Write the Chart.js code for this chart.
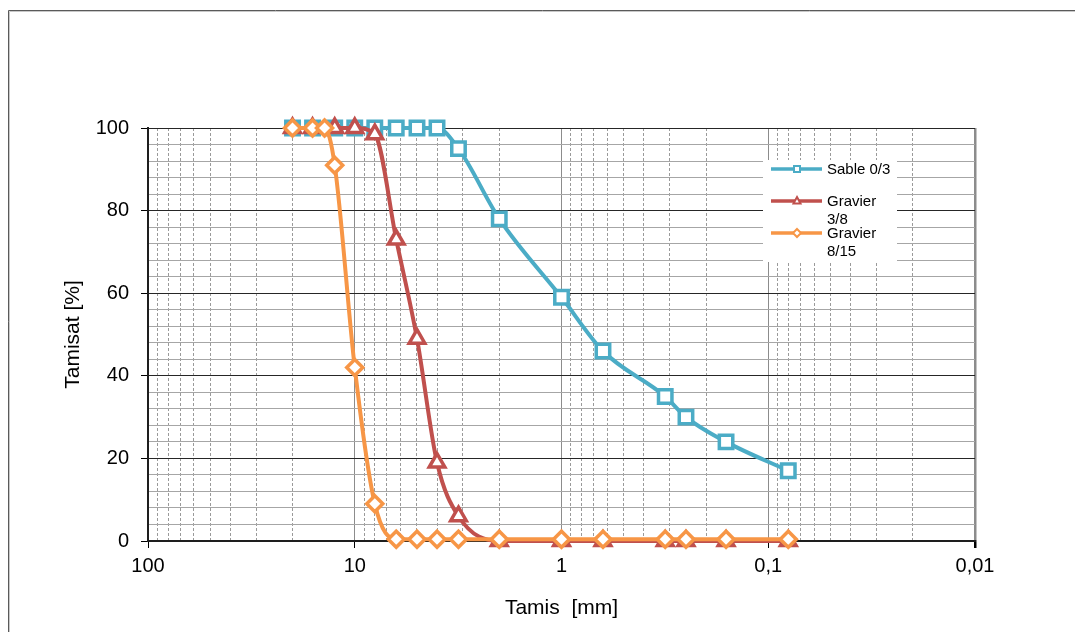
<!DOCTYPE html>
<html>
<head>
<meta charset="utf-8">
<title>Courbes granulométriques</title>
<script src="https://cdn.jsdelivr.net/npm/chart.js@4.4.0/dist/chart.umd.min.js"></script>
<style>
  html, body { margin: 0; padding: 0; background: #fff; }
  #wrap { width: 1075px; height: 632px; position: relative; }
</style>
</head>
<body>
<div id="wrap"><canvas id="granulo" width="1075" height="632"></canvas></div>
<script>
// ouvertures des tamis (mm)
const tamis = [20, 16, 12.5, 10, 8, 6.3, 5, 4, 3.15, 2, 1, 0.63, 0.315, 0.25, 0.16, 0.08];
const tamis815 = [20, 16, 14, 12.5, 10, 8, 6.3, 5, 4, 3.15, 2, 1, 0.63, 0.315, 0.25, 0.16, 0.08];

// tamisats cumulés (%)
const sable03 = [100, 100, 100, 100, 100, 100, 100, 100, 95, 78, 59, 46, 35, 30, 24, 17];
const gravier38 = [100, 100, 100, 100, 98.5, 73, 49, 19, 6, 0, 0, 0, 0, 0, 0, 0];
const gravier815 = [100, 100, 100, 91, 42, 9, 0.4, 0.4, 0.4, 0.4, 0.4, 0.4, 0.4, 0.4, 0.4, 0.4, 0.4];

const seriesNames = ['Sable 0/3', 'Gravier 3/8', 'Gravier 8/15'];
const seriesColors = ['#4bacc6', '#c0504d', '#f79646'];
const seriesStyles = ['rect', 'triangle', 'rectRot'];

const decades = [100, 10, 1, 0.1, 0.01];
const decadeLabels = ['100', '10', '1', '0,1', '0,01'];

const FONT = "'Liberation Sans', Arial, sans-serif";
const CLEAR = 'rgba(0,0,0,0)';

// grid positions 1..9 x 10^n between 0.01 and 100
const gridValues = [];
for (const d of [0.01, 0.1, 1, 10]) {
  for (let m = 1; m <= 9; m++) gridValues.push(+(m * d).toPrecision(6));
}
gridValues.push(100);

const isDecade = v => decades.some(d => Math.abs(v / d - 1) < 1e-9);
const setTicks = scale => { scale.ticks = gridValues.map(v => ({ value: v })); };

const pairs = (xs, ys) => xs.map((x, i) => ({ x: x, y: ys[i] }));

function makeSet(i, xs, ys, radius) {
  return {
    label: seriesNames[i],
    data: pairs(xs, ys),
    borderColor: seriesColors[i],
    backgroundColor: seriesColors[i],
    borderWidth: 4,
    pointStyle: seriesStyles[i],
    pointRadius: radius,
    pointBorderWidth: 3.5,
    pointBackgroundColor: '#fff',
    pointBorderColor: seriesColors[i],
    cubicInterpolationMode: 'monotone',
    clip: false,
    order: 3 - i
  };
}

// outer frame + white background
const framePlugin = {
  id: 'frame',
  beforeDraw(chart) {
    const ctx = chart.ctx;
    ctx.save();
    ctx.fillStyle = '#fff';
    ctx.fillRect(0, 0, chart.width, chart.height);
    ctx.strokeStyle = '#5a5a5a';
    ctx.lineWidth = 1;
    ctx.beginPath();
    ctx.moveTo(8.5, chart.height + 5);
    ctx.lineTo(8.5, 10.5);
    ctx.lineTo(chart.width + 5, 10.5);
    ctx.stroke();
    ctx.strokeStyle = '#c8c8c8';
    ctx.beginPath();
    ctx.moveTo(9.5, chart.height + 5);
    ctx.lineTo(9.5, 11.5);
    ctx.lineTo(chart.width + 5, 11.5);
    ctx.stroke();
    ctx.restore();
  }
};

function legendMarker(ctx, style, x, y, color) {
  ctx.save();
  ctx.fillStyle = '#fff';
  ctx.strokeStyle = color;
  ctx.lineWidth = 2;
  ctx.beginPath();
  if (style === 'rect') {
    ctx.rect(x - 3, y - 3, 6, 6);
  } else if (style === 'triangle') {
    ctx.moveTo(x, y - 4);
    ctx.lineTo(x + 3.5, y + 2.5);
    ctx.lineTo(x - 3.5, y + 2.5);
    ctx.closePath();
  } else {
    ctx.moveTo(x, y - 4);
    ctx.lineTo(x + 4, y);
    ctx.lineTo(x, y + 4);
    ctx.lineTo(x - 4, y);
    ctx.closePath();
  }
  ctx.fill();
  ctx.stroke();
  ctx.restore();
}

function wrapText(ctx, text, maxW) {
  const words = text.split(' ');
  const lines = [];
  let cur = '';
  for (const w of words) {
    const test = cur ? cur + ' ' + w : w;
    if (cur && ctx.measureText(test).width > maxW) {
      lines.push(cur);
      cur = w;
    } else {
      cur = test;
    }
  }
  if (cur) lines.push(cur);
  return lines;
}

// legend box inside the plot, right side
const legendPlugin = {
  id: 'boxLegend',
  afterDraw(chart) {
    const ctx = chart.ctx;
    const box = { x: 763, y: 160, w: 134, h: 102 };
    ctx.save();
    ctx.fillStyle = '#fff';
    ctx.fillRect(box.x, box.y, box.w, box.h);
    ctx.font = '15px ' + FONT;
    ctx.textBaseline = 'middle';
    chart.data.datasets.forEach((ds, i) => {
      const y = box.y + 9 + i * 32;
      ctx.strokeStyle = seriesColors[i];
      ctx.lineWidth = 3.5;
      ctx.beginPath();
      ctx.moveTo(771, y);
      ctx.lineTo(822, y);
      ctx.stroke();
      legendMarker(ctx, seriesStyles[i], 797, y, seriesColors[i]);
      ctx.fillStyle = '#000';
      wrapText(ctx, ds.label, 68).forEach((line, k) => {
        ctx.fillText(line, 827, y + 1 + k * 17.5);
      });
    });
    ctx.restore();
  }
};

Chart.defaults.font.family = FONT;
Chart.defaults.color = '#000';

new Chart(document.getElementById('granulo'), {
  type: 'line',
  data: {
    datasets: [
      makeSet(0, tamis, sable03, 9.5),
      makeSet(1, tamis, gravier38, 9),
      makeSet(2, tamis815, gravier815, 8)
    ]
  },
  options: {
    responsive: false,
    animation: false,
    layout: { padding: { left: 50, top: 128, right: 100, bottom: 0 } },
    plugins: {
      legend: { display: false },
      tooltip: { enabled: false }
    },
    scales: {
      x: {
        type: 'logarithmic',
        reverse: true,
        min: 0.01,
        max: 100,
        position: 'bottom',
        afterBuildTicks: setTicks,
        afterFit: s => { s.height = 91; },
        ticks: {
          autoSkip: false,
          maxRotation: 0,
          padding: 6,
          font: { size: 20 },
          callback: v => {
            const k = decades.findIndex(d => Math.abs(v / d - 1) < 1e-9);
            return k >= 0 ? decadeLabels[k] : '';
          }
        },
        grid: {
          color: c => (c.tick && isDecade(c.tick.value)) ? '#8c8c8c' : CLEAR,
          lineWidth: c => (c.tick && Math.abs(c.tick.value - 0.01) < 1e-9) ? 2.5 : 1,
          tickLength: 7,
          tickColor: c => (c.tick && isDecade(c.tick.value)) ? '#000' : CLEAR
        },
        border: { color: '#1e1e1e', width: 2 },
        title: { display: true, text: 'Tamis  [mm]', font: { size: 21 }, padding: 11 }
      },
      xMinor: {
        type: 'logarithmic',
        reverse: true,
        min: 0.01,
        max: 100,
        position: 'bottom',
        afterBuildTicks: setTicks,
        afterFit: s => { s.height = 0; },
        ticks: { display: false, autoSkip: false },
        grid: {
          color: c => (c.tick && !isDecade(c.tick.value)) ? '#9a9a9a' : CLEAR,
          lineWidth: 1,
          drawTicks: false
        },
        border: { display: false, dash: [3, 2] }
      },
      y: {
        min: 0,
        max: 100,
        afterFit: s => { s.width = 98; },
        ticks: {
          stepSize: 4,
          autoSkip: false,
          padding: 12,
          font: { size: 20 },
          callback: v => (v % 20 === 0 ? v : '')
        },
        grid: {
          color: c => (c.tick && c.tick.value % 20 === 0) ? '#262626' : '#a6a6a6',
          lineWidth: 1,
          tickLength: 7,
          tickColor: c => (c.tick && c.tick.value % 20 === 0) ? '#000' : CLEAR
        },
        border: { color: '#1e1e1e', width: 2 },
        title: { display: true, text: 'Tamisat [%]', font: { size: 21 }, padding: 11 }
      }
    }
  },
  plugins: [framePlugin, legendPlugin]
});
</script>
</body>
</html>
